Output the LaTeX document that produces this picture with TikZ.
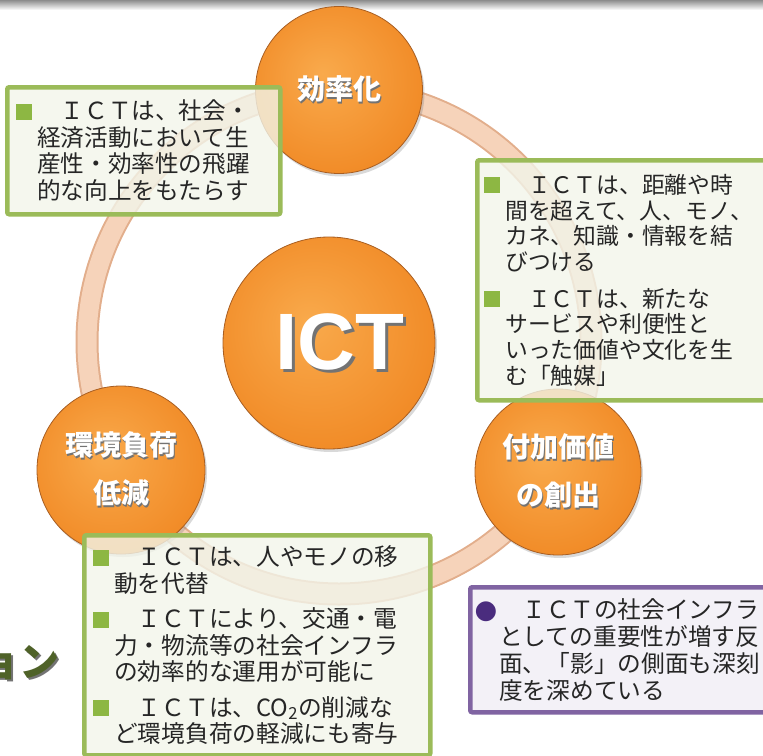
\documentclass[tikz,border=0pt]{standalone}
\usepackage{fontspec}
\usetikzlibrary{shadows}

\setlength{\parindent}{0pt}
\newfontfamily\jpfont{Noto Sans CJK JP}
\newfontfamily\ictfont{Liberation Sans}
\newfontfamily\symfont{DejaVu Sans}

\definecolor{orLight}{HTML}{F9AA4C}
\definecolor{orMain}{HTML}{F18B27}
\definecolor{orRim}{HTML}{FFC567}
\definecolor{orDark}{HTML}{DC761C}
\definecolor{orEdge}{HTML}{A85E22}
\definecolor{ringFill}{HTML}{F6D3BA}
\definecolor{ringEdge}{HTML}{E2AE8C}
\definecolor{noteGreen}{HTML}{9BBB59}
\definecolor{noteFill}{HTML}{F2F5EA}
\definecolor{notePurple}{HTML}{8064A2}
\definecolor{noteLilac}{HTML}{F0EEF5}
\definecolor{bulGreen}{HTML}{8DB743}
\definecolor{bulPurple}{HTML}{4A2C7E}
\definecolor{titleGreen}{HTML}{4F6228}

\pgfdeclareradialshading{orb}{\pgfpoint{-5bp}{5bp}}{%
  color(0bp)=(orLight); color(28bp)=(orMain); color(40bp)=(orMain);
  color(42.5bp)=(orRim); color(45bp)=(orMain); color(48bp)=(orDark);
  color(50bp)=(orEdge)}

% white label with a dark offset copy behind it
\newcommand{\shd}[2][1.5pt]{\leavevmode\rlap{\hspace{#1}\raisebox{-#1}{\color{black!55}#2}}#2}
\newcommand{\bul}{\leavevmode\llap{\textcolor{bulGreen}{\rule{16pt}{16pt}}\hspace{5pt}}}
\newcommand{\pbul}{\leavevmode\llap{{\symfont\fontsize{26}{26}\selectfont\textcolor{bulPurple}{●}}\hspace{2pt}}}

\tikzset{
  ball/.style={circle, inner sep=0pt, shading=orb, draw=orEdge, line width=0.8pt,
    drop shadow={shadow xshift=2pt, shadow yshift=-3pt, opacity=0.3},
    text=white, align=center, font=\jpfont\bfseries\fontsize{28}{48}\selectfont},
  note/.style={anchor=north west, draw=noteGreen, line width=4.5pt, rounded corners=2pt,
    fill=noteFill, fill opacity=0.8, text opacity=1, text=black!85, align=left},
  ringline/.style={line width=#1},
}

\begin{document}
\begin{tikzpicture}[x=1pt, y=-1pt]

  \useasboundingbox (0,0) rectangle (763,755);
  \clip (0,0) rectangle (763,755);

  % slide edge
  \shade[top color=black!45, bottom color=white] (0,0) rectangle (763,10);

  % ring behind the balls
  \coordinate (hub) at (339,342);
  \draw[ringline=23pt, ringEdge] (hub) circle[radius=252];
  \draw[ringline=19pt, ringFill] (hub) circle[radius=252];

  % balls
  \node[ball, minimum size=212pt, font=\ictfont\bfseries\fontsize{80}{80}\selectfont]
    (ict) at (329,343) {\hspace*{22pt}\shd[3pt]{ICT}};
  \node[ball, minimum size=167pt] (koritsu) at (339,90) {\shd{効率化}};
  \node[ball, minimum size=168pt] (kankyo) at (121,470) {\shd{環境負荷}\\\shd{低減}};
  \node[ball, minimum size=166pt] (fuka) at (558,472) {\shd{付加価値}\\\shd{の創出}};

  % cut-off title at the left edge
  \node[anchor=east, inner sep=0pt, text=titleGreen, font=\jpfont\bfseries\fontsize{40}{40}\selectfont]
    (title) at (60,664) {\shd[2pt]{ョン}};

  % notes
  \node[note, inner xsep=30pt, inner ysep=8pt, text width=213pt, minimum height=127pt,
    font=\jpfont\fontsize{23.6}{26.5}\selectfont] (noteKoritsu) at (5,85) {%
    \bul　ＩＣＴは、社会・\\
    経済活動において生\\
    産性・効率性の飛躍\\
    的な向上をもたらす};

  \node[note, inner xsep=28pt, inner ysep=8pt, text width=252pt, minimum height=240pt,
    font=\jpfont\fontsize{22.8}{25.7}\selectfont] (noteFuka) at (475,158) {%
    \bul　ＩＣＴは、距離や時\\
    間を超えて、人、モノ、\\
    カネ、知識・情報を結\\
    びつける\\[11pt]
    \bul　ＩＣＴは、新たな\\
    サービスや利便性と\\
    いった価値や文化を生\\
    む「触媒」};

  \node[note, inner xsep=30pt, inner ysep=8pt, text width=286pt, minimum height=220pt,
    font=\jpfont\fontsize{23.7}{26.5}\selectfont] (noteKankyo) at (82,533) {%
    \bul　ＩＣＴは、人やモノの移\\
    動を代替\\[9pt]
    \bul　ＩＣＴにより、交通・電\\
    力・物流等の社会インフラ\\
    の効率的な運用が可能に\\[9pt]
    \bul　ＩＣＴは、CO\textsubscript{2}の削減な\\
    ど環境負荷の軽減にも寄与};

  \node[note, draw=notePurple, fill=noteLilac, inner xsep=29pt, inner ysep=8pt,
    text width=262pt, minimum height=125pt,
    font=\jpfont\fontsize{23.7}{27}\selectfont] (noteKage) at (468,585) {%
    \pbul　ＩＣＴの社会インフラ\\
    としての重要性が増す反\\
    面、「影」の側面も深刻\\
    度を深めている};

\end{tikzpicture}
\end{document}
